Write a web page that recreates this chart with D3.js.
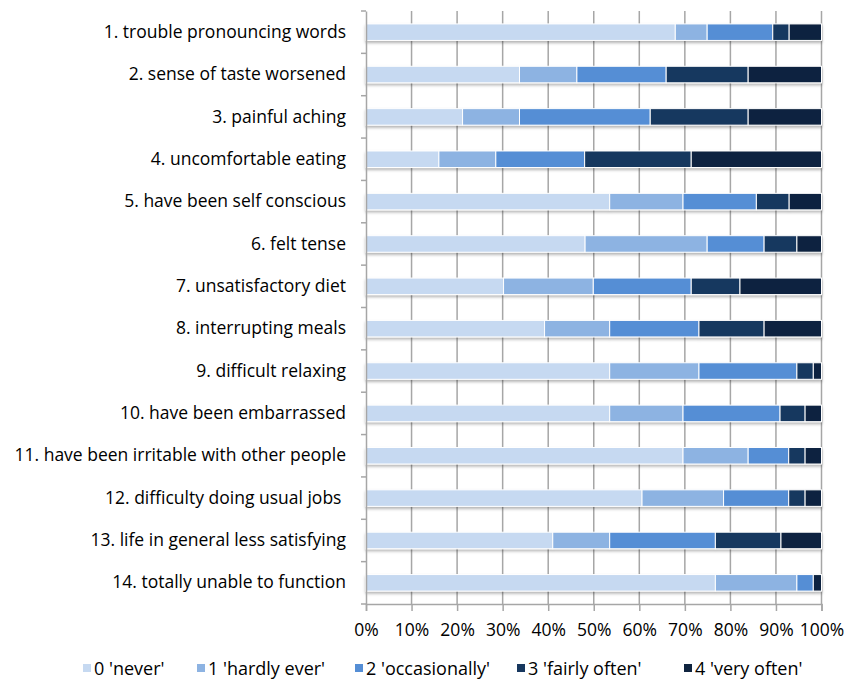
<!DOCTYPE html>
<html>
<head>
<meta charset="utf-8">
<script src="https://cdn.jsdelivr.net/npm/d3@7"></script>
<style>
  body { margin: 0; background: #fff; }
  text { font-family: "Open Sans", Lato, sans-serif; fill: #000; }
</style>
</head>
<body>
<script>
var categories = [
  "1. trouble pronouncing words",
  "2. sense of taste worsened",
  "3. painful aching",
  "4. uncomfortable eating",
  "5. have been self conscious",
  "6. felt tense",
  "7. unsatisfactory diet",
  "8. interrupting meals",
  "9. difficult relaxing",
  "10. have been embarrassed",
  "11. have been irritable with other people",
  "12. difficulty doing usual jobs ",
  "13. life in general less satisfying",
  "14. totally unable to function"
]
var seriesNames = ["0 'never'", "1 'hardly ever'", "2 'occasionally'", "3 'fairly often'", "4 'very often'"]
var colors = ["#c6d9f1", "#8db3e2", "#558ed5", "#17375e", "#10243f"]

// percentages per answer, one array per series
var never      = [67.9, 33.7, 21.2, 16.0, 53.5, 48.1, 30.2, 39.2, 53.5, 53.5, 69.6, 60.6, 41.0, 76.7]
var hardlyEver = [ 7.0, 12.6, 12.5, 12.5, 16.1, 26.8, 19.7, 14.3, 19.6, 16.1, 14.3, 17.9, 12.5, 17.9]
var occasional = [14.4, 19.6, 28.7, 19.5, 16.1, 12.5, 21.5, 19.6, 21.5, 21.3,  8.9, 14.3, 23.2,  3.6]
var fairlyOften= [ 3.6, 18.0, 21.5, 23.4,  7.2,  7.2, 10.7, 14.3,  3.6,  5.5,  3.6,  3.6, 14.4,  0.0]
var veryOften  = [ 7.1, 16.1, 16.1, 28.6,  7.1,  5.4, 17.9, 12.6,  1.8,  3.6,  3.6,  3.6,  8.9,  1.8]
var xTicks = [0, 10, 20, 30, 40, 50, 60, 70, 80, 90, 100]

var allSeries = [never, hardlyEver, occasional, fairlyOften, veryOften]

var W = 858, H = 680
var plotL = 366, plotR = 821.5, plotT = 11, plotB = 604

var svg = d3.select("body").append("svg")
  .attr("width", W)
  .attr("height", H)

var defs = svg.append("defs")
var f = defs.append("filter").attr("id", "shadow")
  .attr("x", "-5%").attr("y", "-30%").attr("width", "110%").attr("height", "180%")
f.append("feDropShadow").attr("dx", 0).attr("dy", 2).attr("stdDeviation", 1.5)
  .attr("flood-color", "#000").attr("flood-opacity", 0.3)

var x = d3.scaleLinear().domain([0, 100]).range([plotL, plotR])
var y = d3.scaleBand().domain(categories).range([plotT, plotB]).paddingInner(0.61).paddingOuter(0.305)
var yb = d3.scaleBand().domain(categories).range([plotT, plotB])

// gridlines
svg.append("g").selectAll("line")
  .data(xTicks.slice(1))
  .enter().append("line")
  .attr("x1", d => x(d)).attr("x2", d => x(d))
  .attr("y1", plotT).attr("y2", plotB)
  .attr("stroke", "#a6a6a6").attr("stroke-width", 1.5)

// stacked data
var rows = categories.map(function (c, i) {
  var o = { cat: c }
  allSeries.forEach(function (s, k) { o["s" + k] = s[i] })
  return o
})
var keys = allSeries.map((s, k) => "s" + k)
var stacked = d3.stack().keys(keys)(rows)

var bars = svg.append("g").attr("filter", "url(#shadow)")
stacked.forEach(function (layer, k) {
  bars.append("g").selectAll("rect")
    .data(layer)
    .enter().append("rect")
    .attr("x", d => x(d[0]))
    .attr("y", d => y(d.data.cat))
    .attr("width", d => Math.max(0, x(d[1]) - x(d[0])))
    .attr("height", y.bandwidth())
    .attr("fill", colors[k])
    .attr("stroke", "#fff")
    .attr("stroke-width", d => (d[1] - d[0]) > 0 ? 1 : 0)
})

// left axis
var yAxis = d3.axisLeft(yb).tickSize(0).tickPadding(20)
var ga = svg.append("g").attr("transform", "translate(" + plotL + ",0)").call(yAxis)
ga.attr("font-family", null)
ga.select(".domain").attr("stroke", "#a6a6a6").attr("stroke-width", 1.5)
ga.selectAll("text").style("font-size", "17.5px").style("white-space", "pre")
// band boundary ticks
svg.append("g").selectAll("line")
  .data(categories.concat(["end"]))
  .enter().append("line")
  .attr("x1", plotL - 5).attr("x2", plotL)
  .attr("y1", (d, i) => i < categories.length ? yb(d) : plotB)
  .attr("y2", (d, i) => i < categories.length ? yb(d) : plotB)
  .attr("stroke", "#a6a6a6").attr("stroke-width", 1.5)

// bottom axis
var xAxis = d3.axisBottom(x).tickValues(xTicks).tickFormat(d => d + "%").tickSize(7).tickPadding(13)
var gx = svg.append("g").attr("transform", "translate(0," + plotB + ")").call(xAxis)
gx.attr("font-family", null)
gx.select(".domain").attr("stroke", "#a6a6a6").attr("stroke-width", 1.5)
gx.selectAll(".tick line").attr("stroke", "#a6a6a6").attr("stroke-width", 1.5)
gx.selectAll("text").style("font-size", "17.5px")

// legend
var legendX = [83, 197, 355, 517, 684]
var lg = svg.append("g")
seriesNames.forEach(function (n, k) {
  lg.append("rect").attr("x", legendX[k]).attr("y", 664).attr("width", 8).attr("height", 8)
    .attr("fill", colors[k])
  lg.append("text").attr("x", legendX[k] + 11).attr("y", 674.5)
    .style("font-size", "18px").text(n)
})
</script>
</body>
</html>
